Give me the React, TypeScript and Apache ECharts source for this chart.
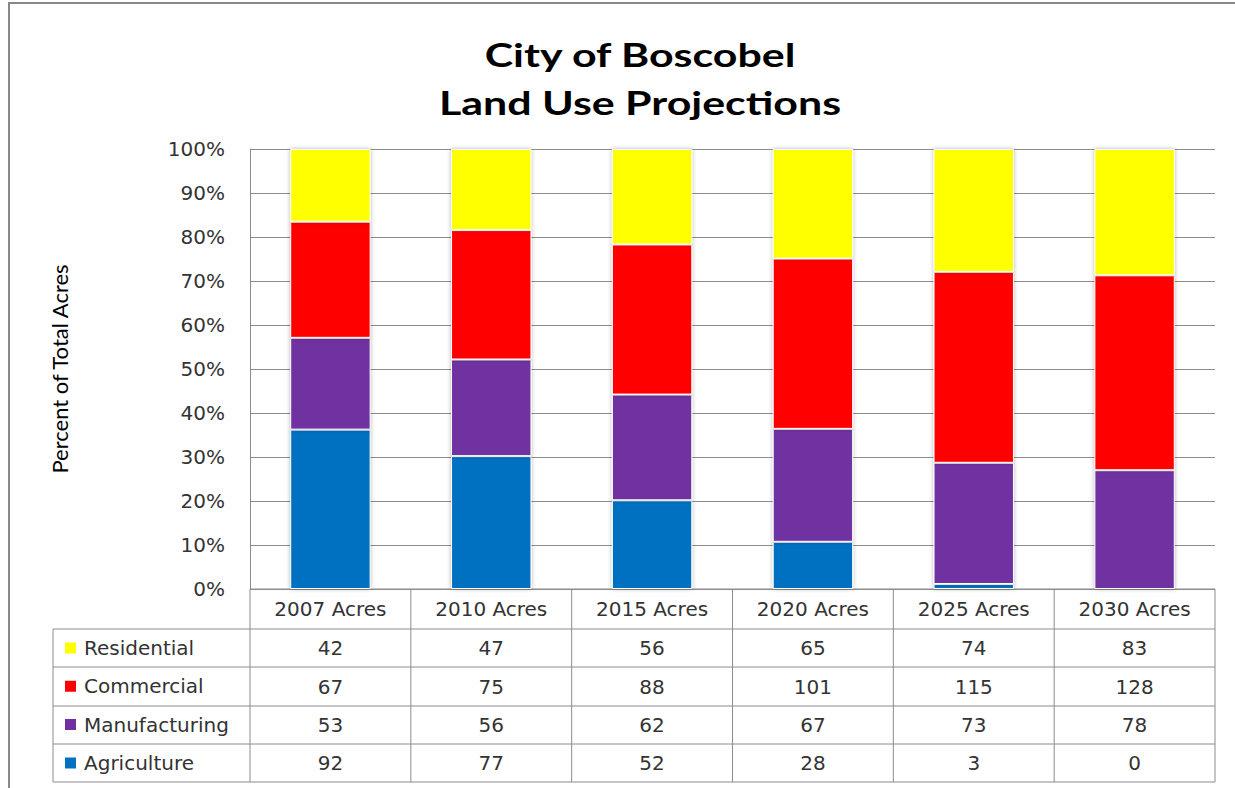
import React, { useEffect, useRef } from 'react';
import * as echarts from 'echarts';

const titleLines = ['City of Boscobel', 'Land Use Projections'];
const categories = ['2007 Acres', '2010 Acres', '2015 Acres', '2020 Acres', '2025 Acres', '2030 Acres'];
const residential = [42, 47, 56, 65, 74, 83];
const commercial = [67, 75, 88, 101, 115, 128];
const manufacturing = [53, 56, 62, 67, 73, 78];
const agriculture = [92, 77, 52, 28, 3, 0];

const seriesNames = ['Agriculture', 'Manufacturing', 'Commercial', 'Residential'];
const seriesValues = [agriculture, manufacturing, commercial, residential];
const seriesColors = ['#0070C0', '#7030A0', '#FF0000', '#FFFF00'];

const tableOrder = [3, 2, 1, 0]; // Residential, Commercial, Manufacturing, Agriculture

const W = 1235;
const H = 788;
const L = 250;
const R = 1215;
const TOP = 149;
const BOTTOM = 589;
const rowLines = [589, 629, 667, 706, 744, 782];
const TABLE_LEFT = 53;
const TITLE_FONT = 'Lato, sans-serif';
const BODY_FONT = '"DejaVu Sans", sans-serif';
const BODY_SIZE = 20;
const TXT = '#333333';
const LINE = '#8c8c8c';

export default function App() {
  const ref = useRef<HTMLDivElement>(null);
  useEffect(() => {
    if (!ref.current) return;
    const chart = echarts.init(ref.current, null, { renderer: 'svg' });
    const totals = categories.map((_, i) => seriesValues.reduce((s, arr) => s + arr[i], 0));
    const cellW = (R - L) / categories.length;

    const graphics: any[] = [];
    // outer frame
    graphics.push({ type: 'rect', shape: { x: 9, y: 3, width: W + 20, height: H + 20 }, style: { fill: 'none', stroke: '#888', lineWidth: 2 }, silent: true });
    // title (horizontally stretched, as in the reference)
    titleLines.forEach((t, i) => {
      graphics.push({
        type: 'text', x: 640, y: 54 + i * 48, scaleX: 1.3, scaleY: 1,
        style: { text: t, fill: '#000', font: `bold 33px ${TITLE_FONT}`, textAlign: 'center', textVerticalAlign: 'middle' },
        silent: true,
      });
    });
    // table horizontal lines
    rowLines.forEach((y, i) => {
      graphics.push({ type: 'line', shape: { x1: i === 0 ? L : TABLE_LEFT, y1: y, x2: R, y2: y }, style: { stroke: LINE, lineWidth: 1 }, silent: true });
    });
    // table vertical lines
    for (let i = 0; i <= categories.length; i++) {
      const x = L + i * cellW;
      graphics.push({ type: 'line', shape: { x1: x, y1: BOTTOM, x2: x, y2: rowLines[rowLines.length - 1] }, style: { stroke: LINE, lineWidth: 1 }, silent: true });
    }
    graphics.push({ type: 'line', shape: { x1: TABLE_LEFT, y1: rowLines[1], x2: TABLE_LEFT, y2: rowLines[rowLines.length - 1] }, style: { stroke: LINE, lineWidth: 1 }, silent: true });

    const rowCenters = rowLines.slice(0, -1).map((y, i) => (y + rowLines[i + 1]) / 2);

    const labelStyle = { interval: 0, margin: 0, verticalAlign: 'middle', fontSize: BODY_SIZE, color: TXT, fontFamily: BODY_FONT };
    const xAxes: any[] = [
      {
        type: 'category', data: categories, gridIndex: 0, position: 'bottom', offset: rowCenters[0] - BOTTOM,
        axisLine: { show: false }, axisTick: { show: false },
        axisLabel: labelStyle,
      },
    ];
    tableOrder.forEach((si, r) => {
      xAxes.push({
        type: 'category', data: seriesValues[si].map(String), gridIndex: 0, position: 'bottom', offset: rowCenters[r + 1] - BOTTOM,
        axisLine: { show: false }, axisTick: { show: false }, splitLine: { show: false },
        axisLabel: labelStyle,
      });
    });

    chart.setOption({
      animation: false,
      backgroundColor: '#fff',
      grid: { left: L, right: W - R, top: TOP, bottom: H - BOTTOM, containLabel: false },
      legend: {
        orient: 'vertical', left: 63, top: rowCenters[1] - 11, padding: 0,
        data: tableOrder.map((i) => seriesNames[i]),
        icon: 'rect', itemWidth: 13, itemHeight: 13, itemGap: 16.3, selectedMode: false,
        textStyle: { fontSize: BODY_SIZE, color: TXT, lineHeight: 22, fontFamily: BODY_FONT, padding: [0, 0, 0, 2] },
      },
      xAxis: xAxes,
      yAxis: {
        type: 'value', min: 0, max: 100, interval: 10,
        name: 'Percent of Total Acres', nameLocation: 'middle', nameGap: 180, nameRotate: 90,
        nameTextStyle: { fontSize: 22, color: '#000', fontFamily: TITLE_FONT },
        axisLine: { show: true, lineStyle: { color: LINE } },
        axisTick: { show: false },
        axisLabel: { formatter: '{value}%', fontSize: BODY_SIZE, color: TXT, margin: 25, fontFamily: BODY_FONT },
        splitLine: { show: true, lineStyle: { color: LINE, width: 1 } },
      },
      series: seriesNames.map((name, si) => ({
        name, type: 'bar', stack: 'total', xAxisIndex: 0, barWidth: '50%',
        data: seriesValues[si].map((v, i) => (v / totals[i]) * 100),
        itemStyle: { color: seriesColors[si], borderColor: '#fff', borderWidth: 1, shadowBlur: 4, shadowColor: 'rgba(0,0,0,0.3)' },
      })),
      graphic: graphics,
    });
    return () => chart.dispose();
  }, []);
  return <div ref={ref} style={{ position: 'absolute', left: 0, top: 0, width: W, height: H }} />;
}
